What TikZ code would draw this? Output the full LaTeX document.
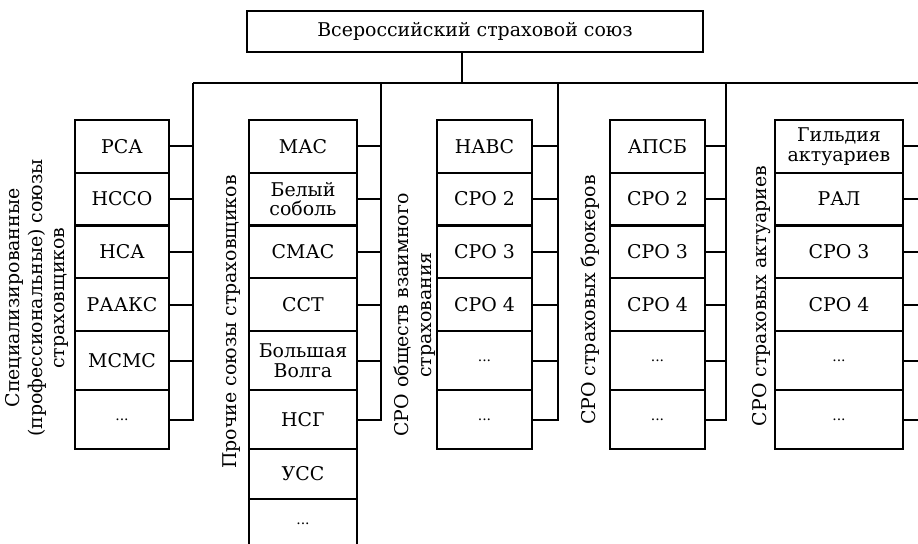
\documentclass[tikz,border=0pt]{standalone}
\usepackage{fontspec}
\setmainfont{DejaVu Serif}
\newcommand{\dotsbox}{{\fontsize{14}{14}\selectfont ...}}

\begin{document}
\begin{tikzpicture}[x=1bp,y=-1bp,line width=2bp,
    font=\fontsize{19}{20}\selectfont,
    rowa/.style={minimum height=52.75bp},
    rowb/.style={minimum height=59bp},
    rowc/.style={minimum height=50bp},
    side/.style={rotate=90,align=center,font=\fontsize{19}{23}\selectfont}]

  \useasboundingbox (0,0) rectangle (918,544);

  \node[draw,line width=1.6bp,minimum width=456bp,minimum height=41bp] (vss) at (475,31.5) {Всероссийский страховой союз};

  % шины
  \coordinate (st) at (462,83);
  \coordinate (s1) at (193,83);
  \coordinate (s2) at (381,83);
  \coordinate (s3) at (558,83);
  \coordinate (s4) at (726,83);
  \coordinate (s5) at (920,83);

  % подписи групп
  \node[side] (la) at (37,298) {Специализированные\\(профессиональные) союзы\\страховщиков};
  \node[side] (lb) at (232,322) {Прочие союзы страховщиков};
  \node[side] (lc) at (415,315) {СРО обществ взаимного\\страхования};
  \node[side] (ld) at (590,300) {СРО страховых брокеров};
  \node[side] (le) at (762,296) {СРО страховых актуариев};

  \begin{scope}[every node/.style={draw,minimum width=94bp,align=center,inner sep=1bp}]
    \node[rowa] (a1) at (122,146.4) {РСА};
    \node[rowa] (a2) at (122,199.1) {НССО};
    \node[rowa] (a3) at (122,251.9) {НСА};
    \node[rowa] (a4) at (122,304.6) {РААКС};
    \node[rowb] (a5) at (122,360.5) {МСМС};
    \node[rowb] (a6) at (122,419.5) {\dotsbox};
  \end{scope}

  \begin{scope}[every node/.style={draw,minimum width=108bp,align=center,inner sep=1bp}]
    \node[rowa] (b1) at (303,146.4) {МАС};
    \node[rowa] (b2) at (303,199.1) {Белый\\соболь};
    \node[rowa] (b3) at (303,251.9) {СМАС};
    \node[rowa] (b4) at (303,304.6) {ССТ};
    \node[rowb] (b5) at (303,360.5) {Большая\\Волга};
    \node[rowb] (b6) at (303,419.5) {НСГ};
    \node[rowc] (b7) at (303,474) {УСС};
    \node[rowc] (b8) at (303,524) {\dotsbox};
  \end{scope}

  \begin{scope}[every node/.style={draw,minimum width=95bp,align=center,inner sep=1bp}]
    \node[rowa] (c1) at (484.5,146.4) {НАВС};
    \node[rowa] (c2) at (484.5,199.1) {СРО 2};
    \node[rowa] (c3) at (484.5,251.9) {СРО 3};
    \node[rowa] (c4) at (484.5,304.6) {СРО 4};
    \node[rowb] (c5) at (484.5,360.5) {\dotsbox};
    \node[rowb] (c6) at (484.5,419.5) {\dotsbox};

    \node[rowa] (d1) at (657.5,146.4) {АПСБ};
    \node[rowa] (d2) at (657.5,199.1) {СРО 2};
    \node[rowa] (d3) at (657.5,251.9) {СРО 3};
    \node[rowa] (d4) at (657.5,304.6) {СРО 4};
    \node[rowb] (d5) at (657.5,360.5) {\dotsbox};
    \node[rowb] (d6) at (657.5,419.5) {\dotsbox};
  \end{scope}

  \begin{scope}[every node/.style={draw,minimum width=128bp,align=center,inner sep=1bp}]
    \node[rowa] (e1) at (839,146.4) {Гильдия\\актуариев};
    \node[rowa] (e2) at (839,199.1) {РАЛ};
    \node[rowa] (e3) at (839,251.9) {СРО 3};
    \node[rowa] (e4) at (839,304.6) {СРО 4};
    \node[rowb] (e5) at (839,360.5) {\dotsbox};
    \node[rowb] (e6) at (839,419.5) {\dotsbox};
  \end{scope}

  % соединения
  \draw (vss.south -| st) -- (st);
  \draw (s1) -- (s5);
  \draw (s1) |- (a6.east);
  \draw (s2) |- (b6.east);
  \draw (s3) |- (c6.east);
  \draw (s4) |- (d6.east);
  \draw (s5) |- (e6.east);

  \begin{scope}[every edge/.style={draw}]
    \path (a1.east) edge (a1.east -| s1);
    \path (a2.east) edge (a2.east -| s1);
    \path (a3.east) edge (a3.east -| s1);
    \path (a4.east) edge (a4.east -| s1);
    \path (a5.east) edge (a5.east -| s1);

    \path (b1.east) edge (b1.east -| s2);
    \path (b2.east) edge (b2.east -| s2);
    \path (b3.east) edge (b3.east -| s2);
    \path (b4.east) edge (b4.east -| s2);
    \path (b5.east) edge (b5.east -| s2);

    \path (c1.east) edge (c1.east -| s3);
    \path (c2.east) edge (c2.east -| s3);
    \path (c3.east) edge (c3.east -| s3);
    \path (c4.east) edge (c4.east -| s3);
    \path (c5.east) edge (c5.east -| s3);

    \path (d1.east) edge (d1.east -| s4);
    \path (d2.east) edge (d2.east -| s4);
    \path (d3.east) edge (d3.east -| s4);
    \path (d4.east) edge (d4.east -| s4);
    \path (d5.east) edge (d5.east -| s4);

    \path (e1.east) edge (e1.east -| s5);
    \path (e2.east) edge (e2.east -| s5);
    \path (e3.east) edge (e3.east -| s5);
    \path (e4.east) edge (e4.east -| s5);
    \path (e5.east) edge (e5.east -| s5);
  \end{scope}

\end{tikzpicture}
\end{document}
